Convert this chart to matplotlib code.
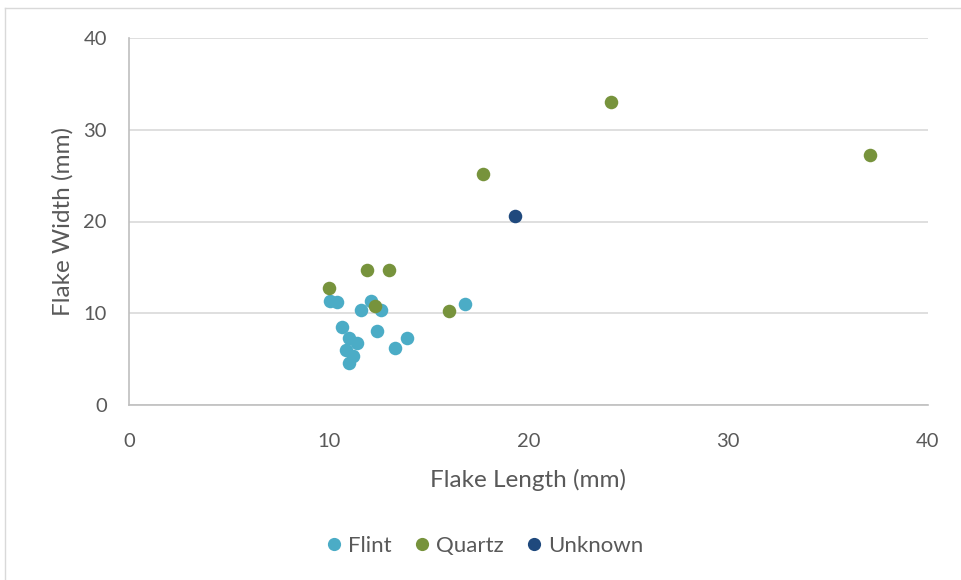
import matplotlib
matplotlib.use("Agg")
import matplotlib.pyplot as plt
from matplotlib.lines import Line2D

plt.rcParams['font.family'] = ['Lato', 'DejaVu Sans']

flint_length = [10.06, 10.42, 12.11, 11.60, 12.63, 16.82, 10.65, 12.41, 11.03,
                11.41, 13.90, 13.32, 10.85, 11.20, 11.03]
flint_width = [11.33, 11.19, 11.33, 10.32, 10.35, 11.04, 8.50, 8.10, 7.34,
               6.79, 7.30, 6.21, 5.99, 5.38, 4.61]

quartz_length = [10.01, 11.90, 13.02, 12.33, 16.02, 17.72, 24.13, 37.10]
quartz_width = [12.79, 14.71, 14.71, 10.79, 10.28, 25.18, 33.02, 27.25]

unknown_length = [19.32]
unknown_width = [20.60]

x_ticks = [0, 10, 20, 30, 40]
y_ticks = [0, 10, 20, 30, 40]

colors = {"Flint": "#4bacc6", "Quartz": "#77933c", "Unknown": "#1f497d"}
text_color = "#595959"
grid_color = "#d9d9d9"

fig = plt.figure(figsize=(9.61, 5.80), dpi=100)
ax = fig.add_axes([129 / 961, 1 - 405 / 580, (928 - 129) / 961, (405 - 38) / 580])

ax.scatter(flint_length, flint_width, s=95, color=colors["Flint"], zorder=3, linewidths=0)
ax.scatter(quartz_length, quartz_width, s=95, color=colors["Quartz"], zorder=3, linewidths=0)
ax.scatter(unknown_length, unknown_width, s=95, color=colors["Unknown"], zorder=3, linewidths=0)

ax.set_xlim(0, 40)
ax.set_ylim(0, 40)
ax.set_xticks(x_ticks)
ax.set_yticks(y_ticks)
ax.tick_params(axis='both', length=0, labelsize=14.5, colors=text_color)
ax.tick_params(axis='y', pad=16)
ax.tick_params(axis='x', pad=20)
ax.grid(axis='y', color=grid_color, linewidth=1.2, zorder=0)
ax.set_axisbelow(True)
for side in ("top", "right"):
    ax.spines[side].set_visible(False)
for side in ("left", "bottom"):
    ax.spines[side].set_color("#bfbfbf")
    ax.spines[side].set_linewidth(1.2)

ax.set_xlabel("Flake Length (mm)", fontsize=17.5, color=text_color, labelpad=14)
ax.set_ylabel("Flake Width (mm)", fontsize=17.5, color=text_color, labelpad=7)

handles = [Line2D([], [], marker='o', linestyle='none', markersize=9.5,
                  markerfacecolor=colors[k], markeredgewidth=0, label=k)
           for k in ("Flint", "Quartz", "Unknown")]
fig.legend(handles=handles, loc='center', bbox_to_anchor=(0.5, 1 - 546 / 580),
           ncol=3, frameon=False, fontsize=16, handletextpad=-0.1,
           columnspacing=0.6, handlelength=1.5, labelcolor=text_color)

# chart frame
fig.add_artist(Line2D([5 / 961, 5 / 961], [0, 1 - 8 / 580], transform=fig.transFigure,
                      color="#d9d9d9", linewidth=1))
fig.add_artist(Line2D([5 / 961, 1], [1 - 8 / 580, 1 - 8 / 580], transform=fig.transFigure,
                      color="#d9d9d9", linewidth=1))

fig.savefig("out.png", dpi=100)
